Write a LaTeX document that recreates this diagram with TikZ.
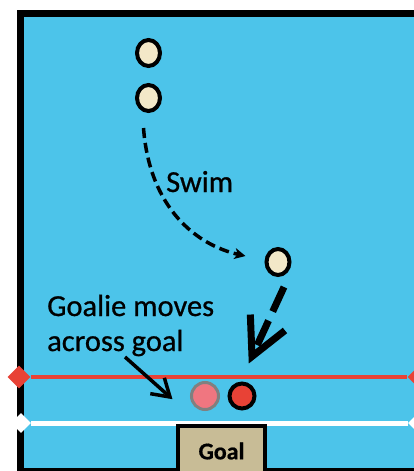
\documentclass[tikz,border=0pt]{standalone}
\usepackage{fontspec}
\setmainfont{Carlito}[FakeBold=0.6]
\usetikzlibrary{shapes.geometric,arrows.meta,calc}
\definecolor{pool}{RGB}{76,196,234}
\definecolor{lanered}{RGB}{232,66,54}
\definecolor{cream}{RGB}{243,232,200}
\definecolor{ghostpink}{RGB}{240,118,128}
\definecolor{ghostgray}{RGB}{128,128,128}
\definecolor{goaltan}{RGB}{200,188,150}
\newfontfamily\labelfont{Carlito}[FakeBold=0.7]
\tikzset{
  player/.style={ellipse, draw=black, line width=4pt, fill=cream,
    minimum width=23pt, minimum height=26pt, inner sep=0pt},
  goalie/.style={circle, draw=black, line width=4pt, fill=lanered,
    minimum size=25pt, inner sep=0pt},
  oldgoalie/.style={circle, draw=ghostgray, line width=3pt, fill=ghostpink,
    minimum size=27pt, inner sep=0pt},
  marker/.style={diamond, inner sep=0pt, fill=#1},
  lanemark/.style={line width=#1},
  label/.style={font=\labelfont\fontsize{30.5}{35}\selectfont, inner sep=0pt},
  swimpath/.style={line width=3.5pt, dash pattern=on 10pt off 5pt,
    -{Stealth[length=11pt,width=11pt,inset=3pt]}},
  bigshaft/.style={line width=7pt, dash pattern=on 27pt off 10pt},
  bighead/.style={line width=7pt, line join=miter},
  thinarrow/.style={line width=3.5pt},
}
\begin{document}
\begin{tikzpicture}[x=1pt,y=-1pt]
  \useasboundingbox (0,0) rectangle (414,471);
  \clip (0,0) rectangle (414,471);
  \fill[white] (0,0) rectangle (414,471);

  % pool with its black frame
  \draw[line width=7pt, fill=pool] (20,13.5) rectangle (430,471.5);

  % red line and its end markers
  \node[marker=lanered, minimum width=23pt, minimum height=23pt] (rL) at (19,377) {};
  \node[marker=lanered, minimum width=23pt, minimum height=23pt] (rR) at (419,377) {};
  \draw[lanered, lanemark=4.5pt] (rL) -- (rR);

  % white line and its end markers
  \node[marker=white, minimum width=20pt, minimum height=20pt] (wL) at (21,423) {};
  \node[marker=white, minimum width=20pt, minimum height=20pt] (wR) at (418,423) {};
  \draw[white, lanemark=5pt] (wL) -- (wR);

  % goal
  \node[draw=black, line width=4pt, fill=goaltan, anchor=north,
        minimum width=87pt, minimum height=50pt, inner sep=0pt,
        font=\fontsize{24}{28}\selectfont\bfseries] (goal) at (221.5,424) {Goal};

  % field players
  \node[player] (p1) at (148.5,53) {};
  \node[player] (p2) at (148.5,98) {};
  \node[player] (p3) at (278,262) {};

  % goalie, old and new position
  \node[oldgoalie] (g1) at (205,396) {};
  \node[goalie] (g2) at (242,396) {};

  % swim path
  \draw[swimpath] ($(p2.south)+(-5,15)$)
    .. controls ($(p2.south)+(1,95)$) and ($(p3.west)+(-68,-17)$)
    .. ($(p3.west)+(-19,-6)$);
  \node[label, anchor=base west] (swim) at (166,192) {Swim};

  % thick arrow towards the goalie
  \coordinate (bs) at ($(p3.south)+(6,10)$);
  \coordinate (bt) at ($(g2.north)+(10,-25)$);
  \draw[bigshaft] (bs) -- ($(bt)!12pt!(bs)$);
  \draw[bighead] ($(bt)!42pt!27:(bs)$) -- (bt) -- ($(bt)!42pt!-27:(bs)$);

  % goalie label and its arrow
  \node[label, anchor=base west, align=left] (glabel) at (47,351)
    {Goalie moves\\across goal};
  \coordinate (gs) at (125,357);
  \coordinate (gt) at ($(g1.west)+(-20,1)$);
  \draw[thinarrow] (gs) -- (gt);
  \draw[thinarrow, line join=miter] ($(gt)!20pt!32:(gs)$) -- (gt) -- ($(gt)!20pt!-32:(gs)$);
\end{tikzpicture}
\end{document}
